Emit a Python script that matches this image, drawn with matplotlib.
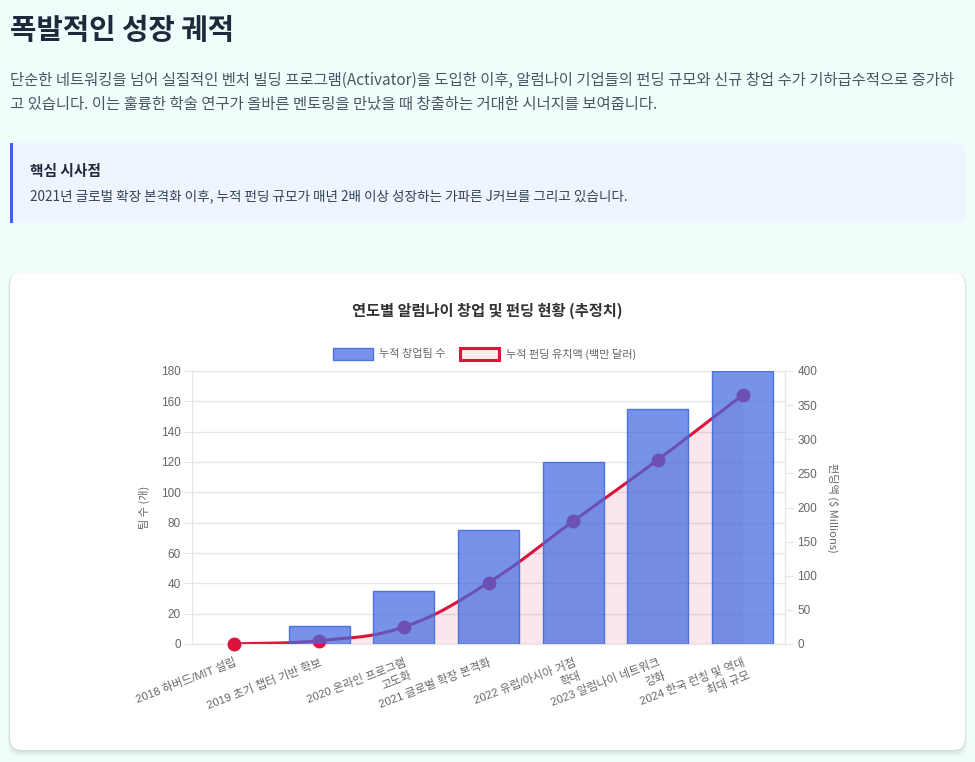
import numpy as np
import matplotlib
matplotlib.use("Agg")
import matplotlib.pyplot as plt
from matplotlib.patches import FancyBboxPatch, Rectangle

# Data
labels = [
    "2018 하버드/MIT 설립",
    "2019 초기 챕터 기반 확보",
    "2020 온라인 프로그램\n고도화",
    "2021 글로벌 확장 본격화",
    "2022 유럽/아시아 거점\n확대",
    "2023 알럼나이 네트워크\n강화",
    "2024 한국 런칭 및 역대\n최대 규모",
]
teams = [0, 12, 35, 75, 120, 155, 180]
funding = [0, 5, 25, 90, 180, 270, 365]
left_ticks = list(range(0, 181, 20))
right_ticks = list(range(0, 401, 50))

KR = ['Noto Sans CJK KR', 'DejaVu Sans']
TICK = ['Liberation Sans', 'Noto Sans CJK KR']
BLUE = (65 / 255, 105 / 255, 225 / 255, 0.72)
CRIMSON = '#DC143C'
PINK = (220 / 255, 20 / 255, 60 / 255, 0.1)
GRAY = '#666666'
GRID = '#e6e6e6'

W, H = 975, 762
fig = plt.figure(figsize=(W / 100, H / 100), dpi=100)
fig.patch.set_facecolor('#f0fdfa')

# page background layer in pixel coords
bg = fig.add_axes([0, 0, 1, 1], zorder=0)
bg.set_xlim(0, W)
bg.set_ylim(H, 0)
bg.axis('off')

bg.text(10, 30, "폭발적인 성장 궤적", family=KR, fontsize=20.7,
        fontweight='bold', color='#1e293b', va='center')
bg.text(10, 80, "단순한 네트워킹을 넘어 실질적인 벤처 빌딩 프로그램(Activator)을 도입한 이후, "
        "알럼나이 기업들의 펀딩 규모와 신규 창업 수가 기하급수적으로 증가하",
        family=KR, fontsize=11.1, color='#4b5563', va='center')
bg.text(10, 105, "고 있습니다. 이는 훌륭한 학술 연구가 올바른 멘토링을 만났을 때 창출하는 거대한 시너지를 보여줍니다.",
        family=KR, fontsize=11.1, color='#4b5563', va='center')

# callout box
bg.add_patch(FancyBboxPatch((10, 143), 955, 80, boxstyle="round,pad=0,rounding_size=9",
                            fc='#eff5ff', ec='none'))
bg.add_patch(Rectangle((10, 143), 20, 80, fc='#eff5ff', ec='none'))
bg.add_patch(Rectangle((10, 143), 3, 80, fc='#3f63e0', ec='none'))
bg.text(30, 171, "핵심 시사점", family=KR, fontsize=10.6, fontweight='bold',
        color='#1e293b', va='center')
bg.text(30, 196, "2021년 글로벌 확장 본격화 이후, 누적 펀딩 규모가 매년 2배 이상 성장하는 가파른 J커브를 그리고 있습니다.",
        family=KR, fontsize=9.8, color='#334155', va='center')

# card with soft shadow
for off, a in [(4, 0.03), (2.5, 0.04), (1.2, 0.05)]:
    bg.add_patch(FancyBboxPatch((10 - off / 2, 273), 955 + off, 477 + off * 1.5,
                                boxstyle="round,pad=0,rounding_size=13",
                                fc=(0, 0, 0, a), ec='none'))
bg.add_patch(FancyBboxPatch((10, 273), 955, 477, boxstyle="round,pad=0,rounding_size=12",
                            fc='white', ec='none'))

bg.text(487, 311, "연도별 알럼나이 창업 및 펀딩 현황 (추정치)", family=KR, fontsize=11,
        fontweight='bold', color='#333333', ha='center', va='center')

# legend
bg.add_patch(Rectangle((333, 348), 40, 12, fc=BLUE, ec=(65 / 255, 105 / 255, 225 / 255, 0.9), lw=1))
bg.text(379, 354, "누적 창업팀 수", family=KR, fontsize=8, color=GRAY, va='center')
bg.add_patch(Rectangle((460, 348), 39, 12, fc='#fde8ec', ec=CRIMSON, lw=2.2))
bg.text(506, 354, "누적 펀딩 유치액 (백만 달러)", family=KR, fontsize=8, color=GRAY, va='center')

# chart axes
left, right, top, bottom = 192, 785, 371, 644
ax = fig.add_axes([left / W, (H - bottom) / H, (right - left) / W, (bottom - top) / H], zorder=2)
ax.patch.set_visible(False)
x = np.arange(len(labels))
ax.set_xlim(-0.5, len(labels) - 0.5)
ax.set_ylim(0, 180)

scale = 180 / 400
fund_scaled = np.array(funding) * scale

# Chart.js style spline (tension 0.4) computed in pixel space
pts = ax.transData.transform(np.column_stack([x, fund_scaled]))
tension = 0.4
n = len(pts)
prev_cp, next_cp = [], []
for i in range(n):
    p0 = pts[max(i - 1, 0)]
    p1 = pts[i]
    p2 = pts[min(i + 1, n - 1)]
    d01 = np.hypot(*(p1 - p0))
    d12 = np.hypot(*(p2 - p1))
    tot = d01 + d12
    s01 = d01 / tot if tot else 0
    s12 = d12 / tot if tot else 0
    prev_cp.append(p1 - tension * s01 * (p2 - p0))
    next_cp.append(p1 + tension * s12 * (p2 - p0))
curve = []
tt = np.linspace(0, 1, 40)[:, None]
for i in range(n - 1):
    a, b, c, d = pts[i], next_cp[i], prev_cp[i + 1], pts[i + 1]
    seg = (1 - tt) ** 3 * a + 3 * (1 - tt) ** 2 * tt * b + 3 * (1 - tt) * tt ** 2 * c + tt ** 3 * d
    curve.append(seg if i == 0 else seg[1:])
curve = ax.transData.inverted().transform(np.vstack(curve))
cx, cy = curve[:, 0], np.clip(curve[:, 1], 0, None)

ax.fill_between(cx, 0, cy, color=PINK, lw=0, zorder=1)
ax.plot(cx, cy, color=CRIMSON, lw=2.2, zorder=2, solid_capstyle='round')
ax.plot(x, fund_scaled, 'o', ms=9, color=CRIMSON, zorder=3, clip_on=False)

ax.bar(x[1:], teams[1:], width=0.72, color=BLUE, edgecolor=(65 / 255, 105 / 255, 225 / 255, 0.9),
       linewidth=1, zorder=4)

ax.set_yticks(left_ticks)
ax.yaxis.grid(True, color=GRID, lw=1)
ax.set_axisbelow(True)
ax.spines['top'].set_visible(False)
for s in ['left', 'right', 'bottom']:
    ax.spines[s].set_color(GRID)
ax.tick_params(axis='y', length=6, color=GRID, pad=2, labelcolor=GRAY, labelsize=8.5)
ax.tick_params(axis='x', length=0, pad=9, labelcolor=GRAY, labelsize=8.2)
for t in ax.get_yticklabels():
    t.set_family(TICK)

ax.set_xticks(x)
ax.set_xticklabels(labels, rotation=21, ha='right', rotation_mode='anchor',
                   multialignment='right', family=TICK, va='top', linespacing=1.35)

sec = ax.secondary_yaxis('right', functions=(lambda v: v / scale, lambda v: v * scale))
sec.set_yticks(right_ticks)
sec.spines['right'].set_color(GRID)
sec.tick_params(axis='y', length=6, color=GRID, pad=3, labelcolor=GRAY, labelsize=8.5)
for t in sec.get_yticklabels():
    t.set_family(TICK)

ax.set_ylabel("팀 수 (개)", family=KR, fontsize=8, color=GRAY, labelpad=8)
sec.set_ylabel("펀딩액 ($ Millions)", family=KR, fontsize=8, color=GRAY,
               rotation=270, labelpad=15)

fig.savefig("out.png", dpi=100, facecolor=fig.get_facecolor())
